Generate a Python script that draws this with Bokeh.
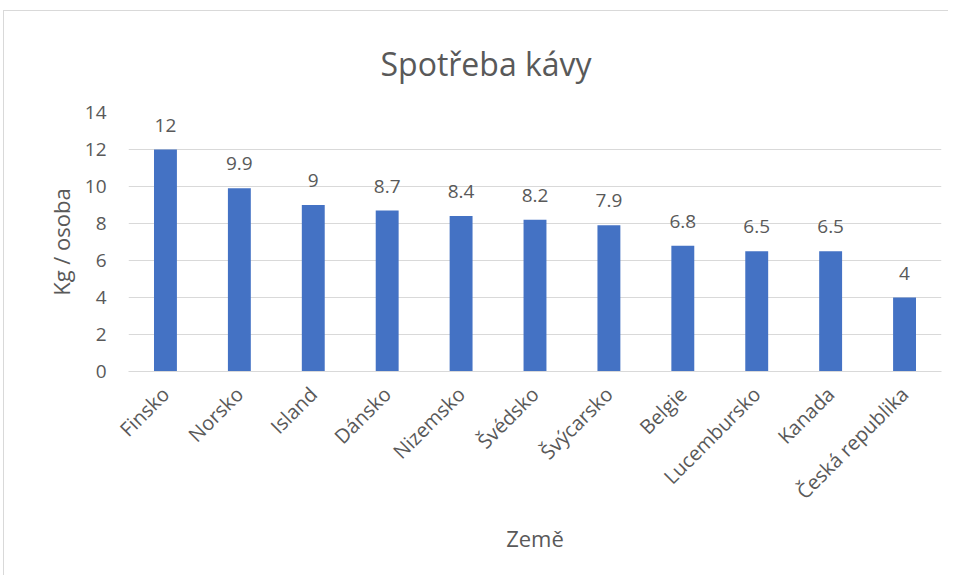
import math
from bokeh.plotting import figure
from bokeh.models import ColumnDataSource, LabelSet
from bokeh.core.properties import value
from bokeh.embed import file_html
from bokeh.resources import INLINE

countries = ["Finsko", "Norsko", "Island", "Dánsko", "Nizemsko", "Švédsko",
             "Švýcarsko", "Belgie", "Lucembursko", "Kanada", "Česká republika"]
values = [12, 9.9, 9, 8.7, 8.4, 8.2, 7.9, 6.8, 6.5, 6.5, 4]
labels = ["12", "9.9", "9", "8.7", "8.4", "8.2", "7.9", "6.8", "6.5", "6.5", "4"]
y_ticks = [0, 2, 4, 6, 8, 10, 12, 14]
title_text = "Spotřeba kávy"

FONT = "Open Sans"
GREY = "#595959"

src = ColumnDataSource(dict(x=countries, top=values, lab=labels))

p = figure(x_range=countries, y_range=(0, 14), width=945, height=565,
           output_backend="svg", toolbar_location=None,
           title=title_text,
           min_border_left=124, min_border_right=8,
           min_border_top=100, min_border_bottom=205)

p.vbar(x="x", top="top", width=0.31, source=src, color="#4472C4", line_color=None)

p.add_layout(LabelSet(x="x", y="top", text="lab", source=src, text_align="center",
                      text_baseline="bottom", y_offset=18, text_color=GREY,
                      text_font=value(FONT), text_font_size="19px"))

p.title.align = "left"
p.title.text_font = FONT
p.title.text_font_style = "normal"
p.title.text_font_size = "32px"
p.title.text_color = GREY
p.title.offset = 252
p.title.standoff = 56

p.outline_line_color = None
p.background_fill_color = "white"
p.border_fill_color = "white"
p.xgrid.grid_line_color = None
p.ygrid.grid_line_color = "#d9d9d9"
p.ygrid.grid_line_width = 1

p.yaxis.ticker = y_ticks
p.yaxis.axis_line_color = None
p.yaxis.major_tick_line_color = None
p.yaxis.minor_tick_line_color = None
p.yaxis.major_label_text_font = FONT
p.yaxis.major_label_text_font_size = "19px"
p.yaxis.major_label_text_color = GREY
p.yaxis.major_label_standoff = 16
p.yaxis.axis_label = "Kg / osoba"
p.yaxis.axis_label_text_font = FONT
p.yaxis.axis_label_text_font_size = "22px"
p.yaxis.axis_label_text_font_style = "normal"
p.yaxis.axis_label_text_color = GREY
p.yaxis.axis_label_standoff = 6

p.xaxis.axis_line_color = "#d9d9d9"
p.xaxis.major_tick_line_color = None
p.xaxis.minor_tick_line_color = None
p.xaxis.major_label_orientation = math.pi / 4
p.xaxis.major_label_text_font = FONT
p.xaxis.major_label_text_font_size = "20px"
p.xaxis.major_label_text_color = GREY
p.xaxis.major_label_standoff = 13
p.xaxis.axis_label = "Země"
p.xaxis.axis_label_text_font = FONT
p.xaxis.axis_label_text_font_size = "22px"
p.xaxis.axis_label_text_font_style = "normal"
p.xaxis.axis_label_text_color = GREY
p.xaxis.axis_label_standoff = 6

p.styles = {"border-top": "1px solid #d9d9d9", "border-left": "1px solid #d9d9d9",
            "margin-top": "10px", "margin-left": "3px"}

open("out.html", "w").write(file_html(p, INLINE))
